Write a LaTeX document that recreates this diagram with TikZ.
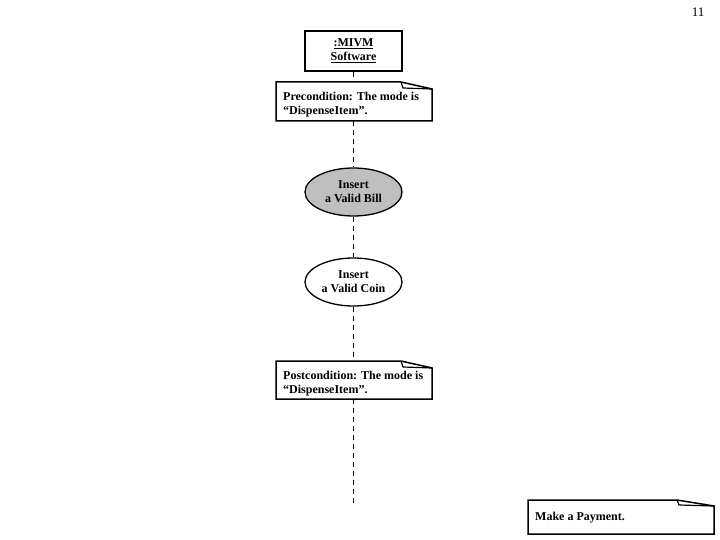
\documentclass[tikz,border=0pt]{standalone}
\usepackage{fontspec}
\setmainfont{Liberation Serif}
\usetikzlibrary{shapes.geometric}
\begin{document}
\begin{tikzpicture}[x=1pt,y=-1pt,
  txt/.style={font=\fontsize{12}{14}\selectfont\bfseries,align=center,inner sep=0pt},
  ntxt/.style={font=\fontsize{12}{14}\selectfont\bfseries,align=left,inner sep=0pt,anchor=north west},
  life/.style={draw,line width=1.8pt,dash pattern=on 5pt off 4pt},
  usecase/.style={draw,line width=1.3pt,ellipse,minimum width=97pt,minimum height=48pt,inner sep=0pt,font=\fontsize{12}{14}\selectfont\bfseries,align=center},
  notebox/.style={draw,line width=1.5pt}]
\useasboundingbox (0,0) rectangle (720,540);
% object box
\node[draw,line width=1.6pt,minimum width=97pt,minimum height=40pt,inner sep=0pt,txt] (obj) at (353.5,51) {\underline{:MIVM}\\\underline{Software}};
% precondition note
\draw[notebox] (276,82) -- (401,82) -- (432,89) -- (432,121) -- (276,121) -- cycle;
\draw[line width=1.2pt] (401,82) -- (403,88) -- (432,89);
\node[ntxt] (pre) at (283,92) {Precondition: The mode is\\“DispenseItem”.};
\coordinate (preB) at (353.5,121);
\coordinate (preT) at (353.5,82);
% use cases
\node[usecase,fill=black!25] (uc1) at (353.5,192) {Insert\\a Valid Bill};
\node[usecase,fill=white] (uc2) at (353.5,282) {Insert\\a Valid Coin};
% postcondition
\draw[notebox] (276,361) -- (401,361) -- (432,368) -- (432,399) -- (276,399) -- cycle;
\draw[line width=1.2pt] (401,361) -- (403,367) -- (432,368);
\node[ntxt] (post) at (283,371) {Postcondition: The mode is\\“DispenseItem”.};
\coordinate (postT) at (353.5,361);
\coordinate (postB) at (353.5,399);
\coordinate (end) at (353.5,505);
% lifeline
\draw[life] (obj.south) -- (preT);
\draw[life] (preB) -- (uc1.north);
\draw[life] (uc1.south) -- (uc2.north);
\draw[life] (uc2.south) -- (postT);
\draw[life] (postB) -- (end);
% make a payment note
\draw[notebox] (528,500) -- (677,500) -- (714,506) -- (714,534) -- (528,534) -- cycle;
\draw[line width=1.2pt] (677,500) -- (679,505) -- (714,506);
\node[ntxt,anchor=west] (title) at (535,518) {Make a Payment.};
% page number
\node[font=\fontsize{13}{15}\selectfont,inner sep=0pt] (pg) at (698,12) {11};
\end{tikzpicture}
\end{document}
